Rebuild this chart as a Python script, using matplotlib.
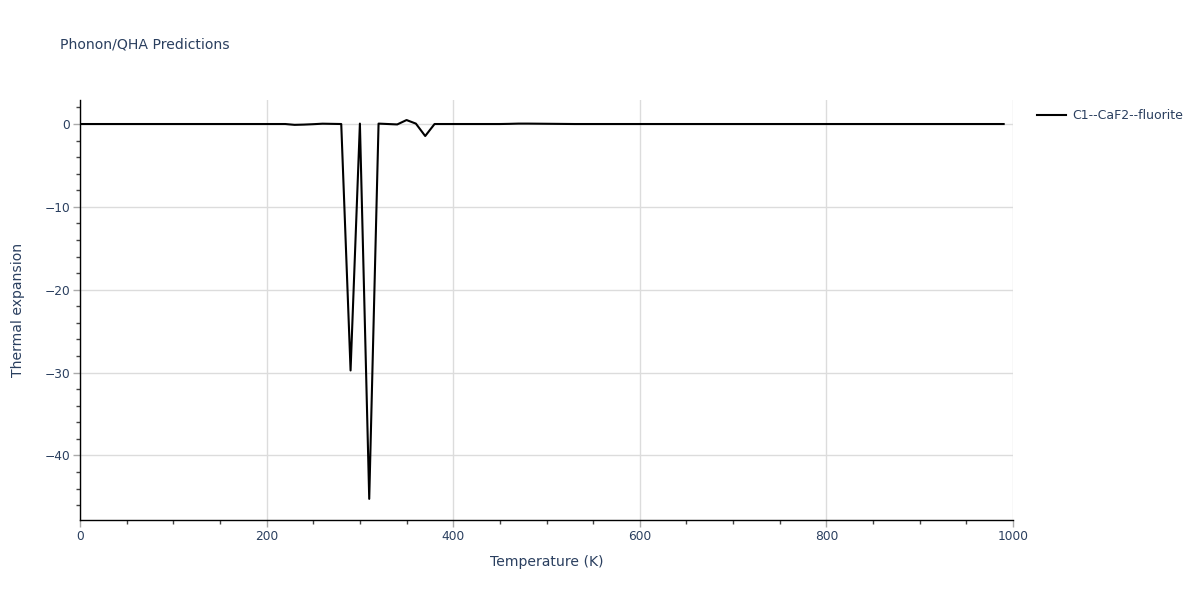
import matplotlib
matplotlib.use("Agg")
import matplotlib.pyplot as plt
from matplotlib.ticker import MultipleLocator

plt.rcParams['font.family'] = ['DejaVu Sans']

temperature = [0, 10, 20, 30, 40, 50, 60, 70, 80, 90,
               100, 110, 120, 130, 140, 150, 160, 170, 180, 190,
               200, 210, 220, 230, 240, 250, 260, 270, 280, 290,
               300, 310, 320, 330, 340, 350, 360, 370, 380, 390,
               400, 410, 420, 430, 440, 450, 460, 470, 480, 490,
               500, 510, 520, 530, 540, 550, 560, 570, 580, 590,
               600, 610, 620, 630, 640, 650, 660, 670, 680, 690,
               700, 710, 720, 730, 740, 750, 760, 770, 780, 790,
               800, 810, 820, 830, 840, 850, 860, 870, 880, 890,
               900, 910, 920, 930, 940, 950, 960, 970, 980, 990]
thermal_expansion = [0, 0, 0, 0, 0, 0, 0, 0, 0, 0,
                     0, 0, 0, 0, 0, 0, 0, 0, 0, 0,
                     0, 0, 0, -0.1, -0.07, -0.02, 0.04, 0.02, 0, -29.75,
                     0.05, -45.25, 0.05, 0.0, -0.05, 0.48, 0.05, -1.45, 0, 0,
                     0, 0, 0, 0, 0, 0, 0.02, 0.05, 0.05, 0.04,
                     0.03, 0.02, 0.01, 0, 0, 0, 0, 0, 0, 0,
                     0, 0, 0, 0, 0, 0, 0, 0, 0, 0,
                     0, 0, 0, 0, 0, 0, 0, 0, 0, 0,
                     0, 0, 0, 0, 0, 0, 0, 0, 0, 0,
                     0, 0, 0, 0, 0, 0, 0, 0, 0, 0]
series_name = "C1--CaF2--fluorite"

text_color = '#2a3f5f'
fig = plt.figure(figsize=(12, 6), dpi=100)
ax = fig.add_axes([80/1200, 1-520/600, (1013-80)/1200, 420/600])

ax.plot(temperature, thermal_expansion, color='black', lw=1.5, label=series_name, zorder=3)

ax.set_xlim(0, 1000)
ax.set_ylim(-47.8, 2.9)

ax.xaxis.set_major_locator(MultipleLocator(200))
ax.xaxis.set_minor_locator(MultipleLocator(50))
ax.yaxis.set_major_locator(MultipleLocator(10))
ax.yaxis.set_minor_locator(MultipleLocator(2))

ax.grid(True, which='major', color='#dcdcdc', lw=1)
ax.set_axisbelow(True)
for s in ['top', 'right']:
    ax.spines[s].set_visible(False)
for s in ['left', 'bottom']:
    ax.spines[s].set_color('black')
    ax.spines[s].set_linewidth(1)

ax.tick_params(which='major', length=5, width=1, color='#aaaaaa', labelsize=8.8, labelcolor=text_color, pad=2)
ax.tick_params(which='minor', length=3, width=1, color='#444444')

ax.set_xlabel("Temperature (K)", fontsize=10.1, color=text_color, labelpad=9)
ax.set_ylabel("Thermal expansion", fontsize=10.1, color=text_color, labelpad=14)

fig.text(60/1200, 1-45/600, "Phonon/QHA Predictions", fontsize=10.1, color=text_color, va='center', ha='left')

leg = ax.legend(loc='upper left', bbox_to_anchor=(1032/1200, 1-104/600), bbox_transform=fig.transFigure,
                frameon=False, fontsize=9.0, handlelength=2.3, handletextpad=0.5, borderaxespad=0)
for t in leg.get_texts():
    t.set_color(text_color)

fig.savefig("out.png", dpi=100)
